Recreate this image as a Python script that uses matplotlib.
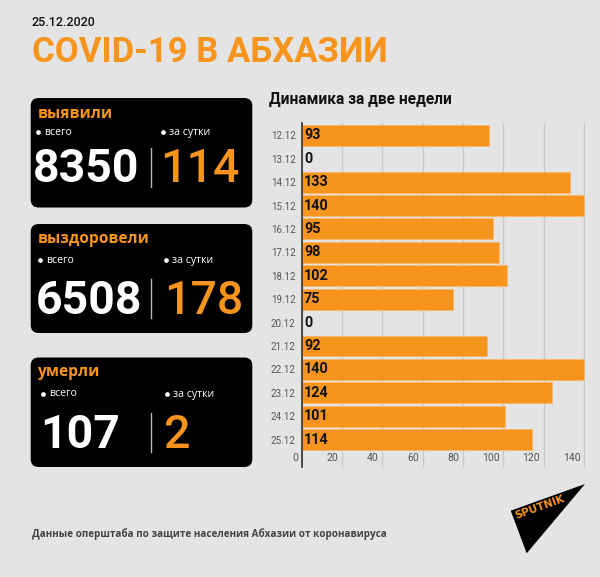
"""COVID-19 in Abkhazia infographic, 25.12.2020"""
import matplotlib
matplotlib.use("Agg")
import matplotlib.pyplot as plt
from matplotlib.patches import FancyBboxPatch, Polygon
from matplotlib.transforms import ScaledTranslation

W, H = 600, 577
BG = "#e4e4e4"
ORANGE = "#f7941d"

plt.rcParams["font.family"] = ["Roboto", "DejaVu Sans"]

dates = ["12.12", "13.12", "14.12", "15.12", "16.12", "17.12", "18.12",
         "19.12", "20.12", "21.12", "22.12", "23.12", "24.12", "25.12"]
cases = [93, 0, 133, 140, 95, 98, 102, 75, 0, 92, 140, 124, 101, 114]
x_ticks = [0, 20, 40, 60, 80, 100, 120, 140]

card_titles = ["выявили", "выздоровели", "умерли"]
card_totals = ["8350", "6508", "107"]
card_daily = ["114", "178", "2"]

fig = plt.figure(figsize=(W / 100, H / 100), dpi=100, facecolor=BG)

# overlay in pixel coordinates for the header and the cards
bg = fig.add_axes([0, 0, 1, 1])
bg.set_xlim(0, W)
bg.set_ylim(H, 0)
bg.axis("off")

bg.text(32, 23, "25.12.2020", fontsize=9, color="#111111", va="center", fontweight="medium")
bg.text(32, 52, "COVID-19 В АБХАЗИИ", fontsize=25, color=ORANGE, va="center", fontweight="bold")
bg.text(269, 99.5, "Динамика за две недели", fontsize=11.2, color="#111111", va="center", fontweight="bold")
bg.text(32, 534, "Данные оперштаба по защите населения Абхазии от коронавируса", fontsize=7.15,
        color="#444444", va="center", fontweight="bold", family=["Open Sans", "DejaVu Sans"])

# card layout: top, bottom, title y, label y, number y, total x, daily x, dot xs
layout = [
    (98, 207.5, 114, 132, 167, 33, 160, 38, 163),
    (224, 333, 239, 260, 298, 36, 164, 40, 166),
    (357.5, 467, 372, 393.5, 432, 40, 163, 43, 167),
]

for i, (top, bottom, t_y, l_y, n_y, tot_x, day_x, dot1, dot2) in enumerate(layout):
    bg.add_patch(FancyBboxPatch((30.7 + 8, top + 8), 221.6 - 16, bottom - top - 16,
                                boxstyle="round,pad=8,rounding_size=8", fc="black", ec="none"))
    bg.text(37.5, t_y, card_titles[i], fontsize=11.2, color=ORANGE, va="center", fontweight="bold",
            family=["Open Sans", "DejaVu Sans"])
    for dot, label in ((dot1, "всего"), (dot2, "за сутки")):
        bg.plot([dot], [l_y], "o", ms=3.4, color="white", mew=0)
        bg.text(dot + 6, l_y + 0.5, label, fontsize=7.6, color="white", va="center", fontweight="medium",
                family=["Open Sans", "DejaVu Sans"])
    bg.text(tot_x, n_y + 2.5, card_totals[i], fontsize=33.4, color="white", va="center", fontweight="bold")
    bg.text(day_x, n_y + 2.5, card_daily[i], fontsize=33.5, color=ORANGE, va="center", fontweight="medium")
    bg.plot([151, 151], [n_y - 19.5, n_y + 19.5], color="#b5b5b5", lw=1)

# sputnik logo
bg.add_patch(Polygon([(510.7, 510.7), (585, 484), (526.7, 553.3)], fc="black", ec="none"))
bg.text(540, 507, "SPUTNIK", fontsize=7.7, color=ORANGE, ha="center", va="center", rotation=20,
        fontweight="bold", rotation_mode="anchor", family=["DejaVu Sans"])

# bar chart
ax = fig.add_axes([301.7 / W, 1 - 466.7 / H, 282.8 / W, 344 / H])
ax.patch.set_alpha(0)
y_pos = list(range(len(dates)))
ax.barh(y_pos, cases, height=0.89, color=ORANGE, edgecolor="#f9b565", linewidth=0.5)
ax.set_xlim(0, 140.2)
ax.set_ylim(14.16, -0.538)

ax.set_axisbelow(True)
ax.grid(axis="x", color="#c9c9c9", lw=1)
for side in ("top", "right", "bottom"):
    ax.spines[side].set_visible(False)
ax.spines["left"].set_color("#333333")
ax.spines["left"].set_linewidth(1.2)

ax.set_yticks(y_pos)
ax.set_yticklabels(dates)
ax.set_xticks(x_ticks)
ax.tick_params(axis="y", length=0, pad=4.4, labelsize=7, labelcolor="#555555")
ax.tick_params(axis="x", length=0, pad=-9.6, labelsize=7.6, labelcolor="#555555")

shift = ScaledTranslation(-3.5 / 100, 0, fig.dpi_scale_trans)
for label in ax.get_xticklabels():
    label.set_horizontalalignment("right")
    label.set_transform(label.get_transform() + shift)

for y, value in zip(y_pos, cases):
    ax.text(1.1, y, str(value), fontsize=10.4, color="#111111", va="center", ha="left", fontweight="bold")

fig.savefig("out.png", dpi=100, facecolor=BG)
